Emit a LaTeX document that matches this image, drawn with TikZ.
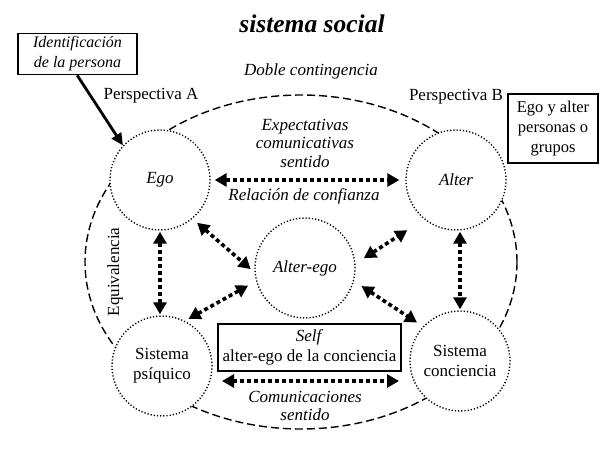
\documentclass[tikz,border=0pt]{standalone}
\usepackage{fontspec}
\setmainfont{Liberation Serif}
\usetikzlibrary{arrows.meta,calc}
\begin{document}
\begin{tikzpicture}[x=1pt,y=-1pt,
 txt/.style={font=\fontsize{17}{20}\selectfont, align=center, inner sep=0},
 itxt/.style={font=\fontsize{17}{18.5}\selectfont\itshape, align=center, inner sep=0},
 circ/.style={circle, draw, line width=1.4pt, dash pattern=on 1.2pt off 2pt, fill=white, minimum size=100pt, inner sep=0},
 darr/.style={line width=3.6pt, dash pattern=on 4pt off 3pt, {Triangle[length=12pt,width=13pt]}-{Triangle[length=12pt,width=13pt]}},
 box/.style={draw, line width=1.6pt, inner sep=0, align=center}]
\useasboundingbox (0,0) rectangle (600,450);
% outer dashed boundary
\draw[line width=1.4pt, dash pattern=on 8pt off 4pt] (301,262) ellipse [x radius=216pt, y radius=167pt];
% title and labels
\node[font=\fontsize{25.5}{28}\selectfont\bfseries\itshape, inner sep=0] (title) at (312,24) {sistema social};
\node[itxt] (doble) at (311,71) {Doble contingencia};
\node[txt] (persA) at (151,96) {Perspectiva A};
\node[txt] (persB) at (456,97) {Perspectiva B};
\node[box, font=\fontsize{16}{20}\selectfont\itshape, minimum width=119pt, minimum height=41pt] (idbox) at (77.5,54) {Identificaci\'on\\de la persona};
\node[box, font=\fontsize{16.5}{20}\selectfont, minimum width=90pt, minimum height=69pt] (egobox) at (553,128.5) {Ego y alter\\personas o\\grupos};
% circles
\node[circ, itxt] (ego) at (160,180) {Ego};
\node[circ, itxt] (alter) at (456,180) {Alter};
\node[circ, itxt] (alterego) at (305,268) {Alter-ego};
\node[circ, txt] (psiq) at (162,366) {Sistema\\ps\'iquico};
\node[circ, txt] (conc) at (460,361) {Sistema\\conciencia};
% texts in the middle
\node[itxt] (expect) at (305,143) {Expectativas\\comunicativas\\sentido};
\node[itxt] (confianza) at (304,196) {Relaci\'on de confianza};
\node[itxt] (comun) at (305,406) {Comunicaciones\\sentido};
\node[box, txt, minimum width=183pt, minimum height=47pt] (self) at (309.5,347.5) {\textit{Self}\\alter-ego de la conciencia};
\node[txt, rotate=90] (equiv) at (115,272) {Equivalencia};
% arrows
\draw[line width=2.8pt, -{Triangle[length=12pt,width=11pt]}] ($(idbox.south west)+(60,0)$) -- (ego.137);
\draw[darr, shorten <=4pt, shorten >=6pt] (ego.east) -- (alter.west);
\draw[darr, shorten <=1pt, shorten >=1pt] (ego.south) -- (ego.south |- psiq.north);
\draw[darr, shorten <=1pt, shorten >=1pt] (alter.south -| conc.north) -- (conc.north);
\draw[darr] ($(psiq.center)+(60,15)$) -- ($(conc.center)+(-61,20)$);
\draw[darr, shorten <=6pt, shorten >=5pt] (ego.-50) -- (alterego.185);
\draw[darr, shorten <=9pt, shorten >=4pt] (alterego.195) -- (psiq.63);
\draw[darr, shorten <=10pt, shorten >=20pt] (alterego.5) -- (alter.-129);
\draw[darr, shorten <=9pt, shorten >=7pt] (alterego.-15) -- (conc.137);
\end{tikzpicture}
\end{document}
